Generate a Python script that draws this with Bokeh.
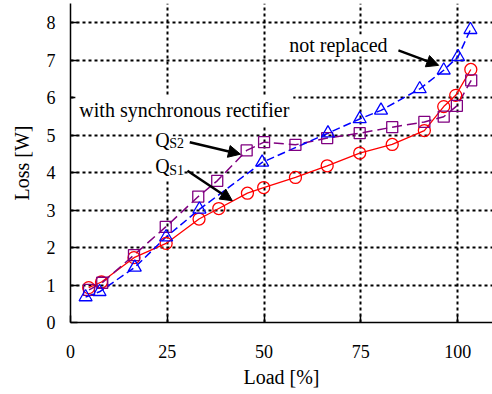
from bokeh.plotting import figure
from bokeh.models import Label, Arrow, NormalHead, Range1d, FixedTicker
from bokeh.embed import file_html
from bokeh.resources import INLINE

# Data
red_x = [4.7, 8.0, 16.4, 24.7, 33.2, 38.3, 45.7, 49.9, 58.1, 66.3, 74.7, 83.1, 91.4, 96.4, 99.5, 103.4]
red_y = [0.93, 1.08, 1.73, 2.11, 2.76, 3.04, 3.45, 3.60, 3.87, 4.18, 4.52, 4.75, 5.12, 5.76, 6.06, 6.75]

purple_x = [4.8, 8.2, 16.4, 24.6, 33.0, 37.9, 45.5, 50.0, 58.1, 66.3, 74.7, 83.1, 91.4, 96.4, 99.8, 103.5]
purple_y = [0.87, 1.06, 1.80, 2.55, 3.36, 3.78, 4.59, 4.81, 4.74, 4.92, 5.05, 5.21, 5.35, 5.49, 5.78, 6.46]

blue_x = [3.9, 7.5, 16.6, 24.7, 33.3, 49.5, 66.5, 74.7, 80.2, 90.2, 96.4, 100.1, 103.3]
blue_y = [0.68, 0.82, 1.47, 2.28, 3.02, 4.27, 5.05, 5.43, 5.66, 6.23, 6.73, 7.09, 7.81]

x_ticks = [0, 25, 50, 75, 100]
y_ticks = [0, 1, 2, 3, 4, 5, 6, 7, 8]

FONT = "'Liberation Serif'"
RED = "#ff0000"
PURPLE = "#800080"
BLUE = "#0000ff"

p = figure(width=492, height=394, x_range=Range1d(0, 109.0), y_range=Range1d(0, 8.51),
           output_backend="svg", toolbar_location=None,
           min_border_left=70, min_border_right=0, min_border_top=3, min_border_bottom=72)
p.outline_line_color = None
p.background_fill_color = "white"
p.border_fill_color = "white"

for ax in (p.xaxis[0], p.yaxis[0]):
    ax.axis_line_color = "black"
    ax.axis_line_width = 1.5
    ax.major_tick_line_color = "black"
    ax.major_tick_line_width = 1.5
    ax.major_tick_in = 7
    ax.major_tick_out = 0
    ax.minor_tick_line_color = None
    ax.major_label_text_font = FONT
    ax.major_label_text_font_size = "18px"
    ax.major_label_text_color = "black"
    ax.axis_label_text_font = FONT
    ax.axis_label_text_font_size = "20px"
    ax.axis_label_text_font_style = "normal"
    ax.axis_label_text_color = "black"

p.xaxis.ticker = FixedTicker(ticks=x_ticks)
p.yaxis.ticker = FixedTicker(ticks=y_ticks)
p.xaxis.axis_label = "Load [%]"
p.yaxis.axis_label = "Loss [W]"
p.xaxis.major_label_standoff = 22
p.xaxis.axis_label_standoff = 5
p.yaxis.major_label_standoff = 15
p.yaxis.axis_label_standoff = 11

for g in (p.xgrid[0], p.ygrid[0]):
    g.grid_line_color = "black"
    g.grid_line_width = 2
    g.grid_line_dash = "3 3"

# Series
p.line(red_x, red_y, line_color=RED, line_width=1.3)
p.line(purple_x, purple_y, line_color=PURPLE, line_width=1.5, line_dash="10 5")
p.line(blue_x, blue_y, line_color=BLUE, line_width=1.5, line_dash="8 4")
p.scatter(red_x, red_y, marker="circle", size=12, line_color=RED, fill_alpha=0, line_width=1.3)
p.scatter(purple_x, purple_y, marker="square", size=11, line_color=PURPLE, fill_alpha=0, line_width=1.3)
p.scatter(blue_x, blue_y, marker="triangle", size=13, line_color=BLUE, fill_alpha=0, line_width=1.3)

# Annotations
def lab(x, y, text, size="20px", xo=0, yo=0, bg=True, align="center", pad=0):
    l = Label(x=x, y=y, text=text, text_font=FONT, text_font_size=size, text_color="black",
              text_align=align, text_baseline="middle", x_offset=xo, y_offset=yo, padding=pad)
    if bg:
        l.background_fill_color = "white"
        l.background_fill_alpha = 1.0
    p.add_layout(l)

lab(29.4, 5.66, "with synchronous rectifier", pad=4)
lab(69.2, 7.39, "not replaced")
lab(21.9, 4.87, "Q", align="left", xo=-3, pad=3)
lab(21.9, 4.87, "S2", size="14px", xo=14, yo=-4, align="left")
lab(21.9, 4.17, "Q", align="left", xo=-3, pad=3)
lab(21.9, 4.17, "S1", size="14px", xo=14, yo=-4, align="left")

def arr(x0, y0, x1, y1):
    p.add_layout(Arrow(x_start=x0, y_start=y0, x_end=x1, y_end=y1, line_width=2.5, line_color="black",
                       end=NormalHead(size=12, fill_color="black", line_color="black")))

arr(84.7, 7.26, 95.1, 6.86)
arr(30.8, 4.81, 43.9, 4.49)
arr(30.2, 4.05, 41.8, 3.25)

open("out.html", "w").write(file_html(p, INLINE))
